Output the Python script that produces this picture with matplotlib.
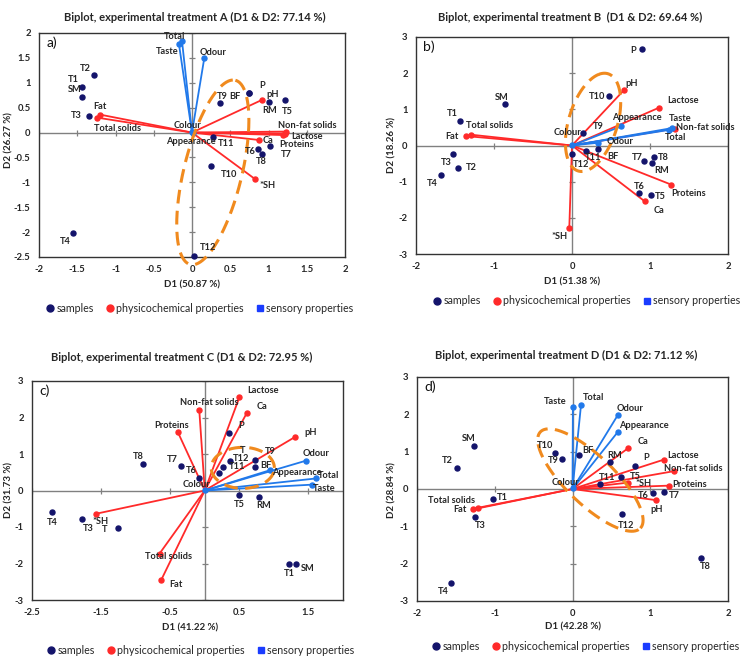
"""
biplots (D1 vs D2) for the four experimental treatments
samples as dots, physicochemical and sensory properties as vectors from the origin
"""
import matplotlib.pyplot as plt
import numpy as np
from matplotlib.lines import Line2D

plt.rcParams['font.family'] = ['Lato', 'DejaVu Sans']

### data ###
# treatment A
a_samples    = ['T1', 'T2', 'T3', 'T4', 'T5', 'T6', 'T7', 'T8', 'T9', 'T10', 'T11', 'T12', 'SM', 'RM', 'BF', 'P']
a_samples_d1 = [-1.44, -1.28, -1.35, -1.55, 1.21, 0.86, 1.02, 0.91, 0.36, 0.25, 0.27, 0.03, -1.44, 1.01, 0.75, 0.75]
a_samples_d2 = [0.91, 1.15, 0.34, -2.02, 0.65, -0.33, -0.27, -0.44, 0.59, -0.68, -0.08, -2.48, 0.72, 0.61, 0.79, 0.80]
a_phys    = ['Fat', 'Total solids', 'pH', 'Non-fat solids', 'Lactose', 'Proteins', 'Ca', '*SH']
a_phys_d1 = [-1.20, -1.24, 0.92, 1.23, 1.19, 1.21, 0.88, 0.82]
a_phys_d2 = [0.36, 0.30, 0.66, 0.02, -0.05, -0.02, -0.15, -0.93]
a_sens    = ['Total', 'Taste', 'Odour', 'Colour', 'Appearance']
a_sens_d1 = [-0.13, -0.17, 0.16, 0.0, 0.01]
a_sens_d2 = [1.83, 1.77, 1.49, 0.01, -0.01]

# treatment B
b_samples    = ['T1', 'T2', 'T3', 'T4', 'T5', 'T6', 'T7', 'T8', 'T9', 'T10', 'T11', 'T12', 'SM', 'RM', 'BF', 'P']
b_samples_d1 = [-1.44, -1.46, -1.52, -1.68, 1.01, 0.86, 0.92, 1.05, 0.14, 0.48, 0.18, 0.0, -0.855, 1.03, 0.33, 0.90]
b_samples_d2 = [0.69, -0.63, -0.23, -0.81, -1.37, -1.31, -0.42, -0.32, 0.35, 1.37, -0.14, -0.23, 1.14, -0.48, -0.09, 2.66]
b_phys    = ['Fat', 'Total solids', 'pH', 'Lactose', 'Non-fat solids', 'Proteins', 'Ca', '*SH']
b_phys_d1 = [-1.355, -1.30, 0.67, 1.11, 1.32, 1.27, 0.93, -0.035]
b_phys_d2 = [0.26, 0.30, 1.54, 1.04, 0.47, -1.08, -1.54, -2.29]
b_sens    = ['Appearance', 'Taste', 'Total', 'Odour', 'Colour']
b_sens_d1 = [0.63, 1.28, 1.24, 0.33, 0.0]
b_sens_d2 = [0.53, 0.48, 0.43, 0.075, 0.02]

# treatment C
c_samples    = ['T1', 'T3', 'T4', 'T5', 'T6', 'T7', 'T8', 'T9', 'T11', 'T12', 'T', 'T', 'SM', 'RM', 'BF', 'P']
c_samples_d1 = [1.22, -1.78, -2.21, 0.50, -0.08, -0.35, -0.89, 0.73, 0.21, 0.26, 0.37, -1.26, 1.32, 0.79, 0.73, 0.35]
c_samples_d2 = [-2.01, -0.77, -0.60, -0.13, 0.35, 0.67, 0.73, 0.83, 0.49, 0.64, 0.80, -1.02, -2.0, -0.17, 0.64, 1.58]
c_phys    = ['Lactose', 'Ca', 'Non-fat solids', 'Proteins', 'pH', '*SH', 'Total solids', 'Fat']
c_phys_d1 = [0.50, 0.61, -0.08, -0.39, 1.30, -1.58, -0.655, -0.63]
c_phys_d2 = [2.55, 2.13, 2.21, 1.60, 1.46, -0.64, -1.73, -2.45]
c_sens    = ['Odour', 'Appearance', 'Total', 'Taste', 'Colour']
c_sens_d1 = [1.47, 0.95, 1.61, 1.55, 0.0]
c_sens_d2 = [0.82, 0.56, 0.33, 0.16, 0.01]

# treatment D
d_samples    = ['T1', 'T2', 'T3', 'T4', 'T5', 'T6', 'T7', 'T8', 'T9', 'T10', 'T11', 'T12', 'SM', 'RM', 'BF', 'P']
d_samples_d1 = [-1.02, -1.49, -1.26, -1.56, 0.63, 1.04, 1.18, 1.65, -0.13, -0.22, 0.36, 0.64, -1.27, 0.48, 0.09, 0.81]
d_samples_d2 = [-0.28, 0.57, -0.75, -2.51, 0.32, -0.12, -0.07, -1.85, 0.80, 0.97, 0.13, -0.68, 1.16, 0.72, 0.91, 0.62]
d_phys    = ['Ca', 'Lactose', 'Non-fat solids', 'Proteins', '*SH', 'pH', 'Total solids', 'Fat']
d_phys_d1 = [0.72, 1.18, 1.31, 1.24, 0.71, 1.08, -1.22, -1.28]
d_phys_d2 = [1.10, 0.79, 0.48, 0.09, 0.17, -0.30, -0.52, -0.53]
d_sens    = ['Taste', 'Total', 'Odour', 'Appearance', 'Colour']
d_sens_d1 = [0.005, 0.11, 0.58, 0.58, 0.0]
d_sens_d2 = [2.20, 2.26, 1.97, 1.52, 0.03]

titles  = ['Biplot, experimental treatment A (D1 & D2: 77.14 %)',
           'Biplot, experimental treatment B  (D1 & D2: 69.64 %)',
           'Biplot, experimental treatment C (D1 & D2: 72.95 %)',
           'Biplot, experimental treatment D (D1 & D2: 71.12 %)']
xlabels = ['D1 (50.87 %)', 'D1 (51.38 %)', 'D1 (41.22 %)', 'D1 (42.28 %)']
ylabels = ['D2 (26.27 %)', 'D2 (18.26 %)', 'D2 (31.73 %)', 'D2 (28.84 %)']

### label offsets (pixels, right / up) ###
a_samples_off = [(-8, 8), (-9, 7), (-12, 0), (-8, -8), (3, -11), (-7, -3), (16, -9), (0, -7), (3, 7), (18, -8),
                 (13, -7), (14, 9), (-7, 7), (0, -8), (-14, -3), (13, 7)]
a_phys_off = [(0, 8), (20, -11), (10, 5), (21, 6), (24, -1), (12, -11), (9, 0), (13, -7)]
a_sens_off = [(-7, 5), (-12, -7), (9, 6), (-5, 7), (-2, -8)]

b_samples_off = [(-7, 7), (13, 1), (-7, -9), (-9, -9), (10, -1), (0, 6), (-6, 3), (9, 0), (15, 6), (-12, -1),
                 (7, -7), (9, -11), (-4, 7), (9, -8), (15, -8), (-9, -1)]
b_phys_off = [(-14, 0), (19, 9), (7, 6), (24, 7), (30, 1), (18, -9), (15, -9), (-10, -8)]
b_sens_off = [(16, 9), (8, 10), (7, -8), (22, 1), (-5, 12)]

c_samples_off = [(0, -10), (6, -10), (0, -10), (0, -9), (-8, 7), (-8, 7), (-5, 7), (15, 9), (18, 6), (18, 9),
                 (12, 11), (-13, -2), (12, -5), (4, -9), (11, 2), (12, 7)]
c_phys_off = [(24, 7), (15, 6), (10, 7), (-6, 7), (16, 5), (5, -8), (9, -3), (15, -5)]
c_sens_off = [(10, 7), (26, -2), (13, 3), (12, -4), (-8, 6)]

d_samples_off = [(9, 2), (-9, 7), (6, -8), (-8, -9), (14, 1), (-10, -2), (10, -4), (5, -8), (-9, -1), (-10, 7),
                 (7, 7), (4, -11), (-5, 7), (5, 7), (8, 5), (11, 8)]
d_phys_off = [(15, 6), (19, 4), (19, 3), (21, 1), (16, -1), (0, -9), (-26, 8), (-13, -1)]
d_sens_off = [(-18, 5), (13, 7), (12, 7), (26, 7), (-7, 5)]

# dashed orange outlines: centre, half major axis, half minor axis (data units)
a_ellipse = (0.272, -0.80, 0.295, 1.85, 0.368, -0.142)
b_ellipse = (0.27, 0.64, 0.077, 1.33, 0.346, 0.277)
c_ellipse = (0.55, 0.62, 0.457, 0.0, 0.0, 0.563)
d_ellipse = (0.23, 0.24, 0.643, -1.29, 0.214, 0.466)

# colours
col_samp = '#14146b'; col_phys = '#ff2a2a'; col_sens = '#2179ea'; col_ell = '#f08a1e'
col_axis = '#808080'; col_text = '#262626'

W, H = 740, 657
fig = plt.figure(figsize=(W/100, H/100), dpi=100)


def rect(left, top, right, bottom):
    # pixel box -> figure fraction
    return [left/W, 1 - bottom/H, (right-left)/W, (bottom-top)/H]


def draw_panel(box, samples, phys, sens, ellipse, xlim, ylim, xticks, yticks, letter):
    ax = fig.add_axes(box)
    ax.set_xlim(xlim); ax.set_ylim(ylim)

    # zero lines with little tick marks
    ax.axhline(0, color=col_axis, lw=1.0, zorder=1)
    ax.axvline(0, color=col_axis, lw=1.0, zorder=1)
    ax.plot(xticks, np.zeros(len(xticks)), ls='none', marker='|', ms=5, mew=0.9, color=col_axis, zorder=1)
    ax.plot(np.zeros(len(yticks)), yticks, ls='none', marker='_', ms=5, mew=0.9, color=col_axis, zorder=1)

    # vectors
    for (names, d1, d2, off), col in ((phys, col_phys), (sens, col_sens)):
        for x, y in zip(d1, d2):
            ax.plot([0, x], [0, y], color=col, lw=1.3, zorder=3)
        ax.plot(d1, d2, ls='none', marker='o', ms=3.6, color=col, zorder=4)

    # ellipse (drawn shape, not clipped by the plot area)
    cx, cy, ux, uy, vx, vy = ellipse
    t = np.linspace(0, 2*np.pi, 300)
    ax.plot(cx + ux*np.cos(t) + vx*np.sin(t), cy + uy*np.cos(t) + vy*np.sin(t),
            color=col_ell, lw=2.2, ls=(0, (4.5, 2.4)), zorder=5, clip_on=False)

    # samples
    names, d1, d2, off = samples
    ax.plot(d1, d2, ls='none', marker='o', ms=3.6, color=col_samp, zorder=6, clip_on=False)

    # labels
    for names, d1, d2, off in (samples, phys, sens):
        for n, x, y, (dx, dy) in zip(names, d1, d2, off):
            ax.annotate(n, (x, y), xytext=(dx, dy), textcoords='offset pixels', ha='center', va='center',
                        fontsize=6.7, fontweight='bold', color=col_text, zorder=7)

    ax.set_xticks(xticks); ax.set_yticks(yticks)
    ax.set_xticklabels(['{:g}'.format(v) for v in xticks])
    ax.set_yticklabels(['{:g}'.format(v) for v in yticks])
    ax.tick_params(length=0, labelsize=6.8, pad=6, colors=col_text)
    for lab in ax.get_xticklabels() + ax.get_yticklabels():
        lab.set_fontweight('bold')
    for s in ax.spines.values():
        s.set_color('#333333'); s.set_linewidth(1.0)

    ax.text(0.042, 0.955, letter, transform=ax.transAxes, ha='center', va='center', fontsize=10, color='#111111')
    return ax


draw_panel(rect(39, 33, 345, 257),
           (a_samples, a_samples_d1, a_samples_d2, a_samples_off),
           (a_phys, a_phys_d1, a_phys_d2, a_phys_off),
           (a_sens, a_sens_d1, a_sens_d2, a_sens_off),
           a_ellipse, (-2, 2), (-2.5, 2), np.arange(-2, 2.01, 0.5), np.arange(-2.5, 2.01, 0.5), 'a)')
draw_panel(rect(416, 37, 728, 254),
           (b_samples, b_samples_d1, b_samples_d2, b_samples_off),
           (b_phys, b_phys_d1, b_phys_d2, b_phys_off),
           (b_sens, b_sens_d1, b_sens_d2, b_sens_off),
           b_ellipse, (-2, 2), (-3, 3), np.arange(-2, 2.01, 1), np.arange(-3, 3.01, 1), 'b)')
draw_panel(rect(32, 381, 343, 600),
           (c_samples, c_samples_d1, c_samples_d2, c_samples_off),
           (c_phys, c_phys_d1, c_phys_d2, c_phys_off),
           (c_sens, c_sens_d1, c_sens_d2, c_sens_off),
           c_ellipse, (-2.5, 2.0), (-3, 3), np.arange(-2.5, 1.51, 1), np.arange(-3, 3.01, 1), 'c)')
draw_panel(rect(417, 377, 728, 601),
           (d_samples, d_samples_d1, d_samples_d2, d_samples_off),
           (d_phys, d_phys_d1, d_phys_d2, d_phys_off),
           (d_sens, d_sens_d1, d_sens_d2, d_sens_off),
           d_ellipse, (-2, 2), (-3, 3), np.arange(-2, 2.01, 1), np.arange(-3, 3.01, 1), 'd)')

# titles, axis labels and legends in pixel positions
title_xy  = [(195, 17), (570, 17), (182, 357), (566, 355)]
xlabel_xy = [(192, 285), (572, 282), (190, 628), (573, 627)]
ylabel_xy = [(9, 140), (392, 145), (9, 490), (392, 490)]
legend_xy = [(199, 308), (586, 301), (200, 650), (585, 646)]

handles = [Line2D([], [], ls='none', marker='o', ms=5, color=col_samp),
           Line2D([], [], ls='none', marker='o', ms=5, color=col_phys),
           Line2D([], [], ls='none', marker='s', ms=5, color='#1a3cff')]
leg_labels = ['samples', 'physicochemical properties', 'sensory properties']

for i in range(4):
    fig.text(title_xy[i][0]/W, 1 - title_xy[i][1]/H, titles[i], ha='center', va='center',
             fontsize=8, fontweight='bold', color=col_text)
    fig.text(xlabel_xy[i][0]/W, 1 - xlabel_xy[i][1]/H, xlabels[i], ha='center', va='center',
             fontsize=7, fontweight='bold', color=col_text)
    fig.text(ylabel_xy[i][0]/W, 1 - ylabel_xy[i][1]/H, ylabels[i], ha='center', va='center', rotation=90,
             fontsize=7, fontweight='bold', color=col_text)
    fig.legend(handles, leg_labels, loc='center', bbox_to_anchor=(legend_xy[i][0]/W, 1 - legend_xy[i][1]/H),
               ncol=3, frameon=False, fontsize=7.7, handletextpad=0.1, columnspacing=1.0,
               handlelength=1.0, labelcolor=col_text)

fig.savefig('out.png', dpi=100)
